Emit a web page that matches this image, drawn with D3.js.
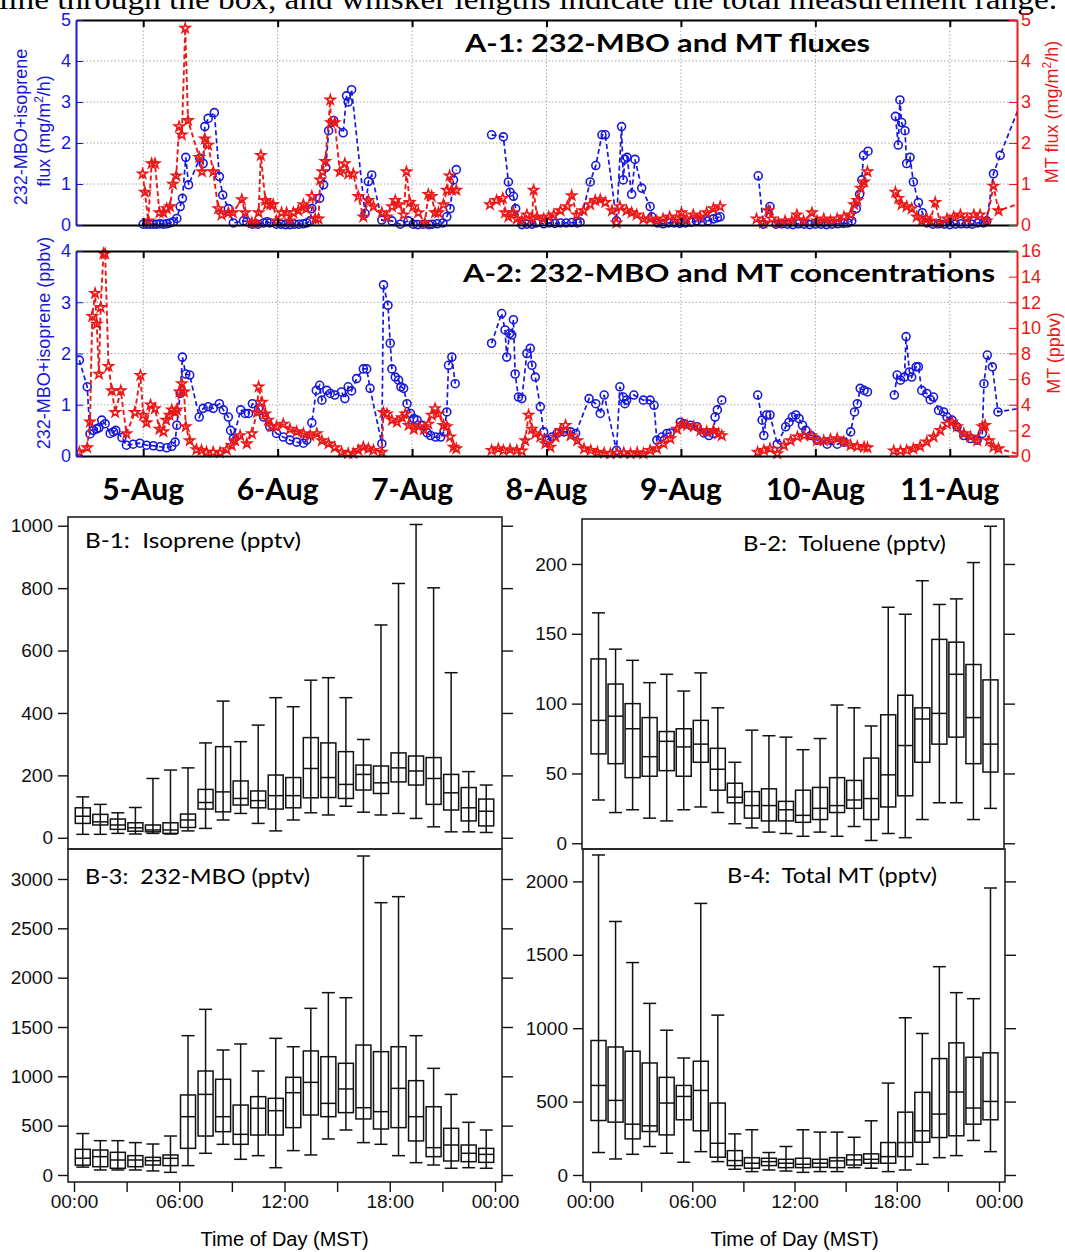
<!DOCTYPE html>
<html>
<head>
<meta charset="utf-8">
<script src="https://cdn.jsdelivr.net/npm/d3@7"></script>
<style>
  body { margin: 0; background: #fff; }
  svg { display: block; }
</style>
</head>
<body>
<script>
// ---- time series: [hours since 4-Aug 12:00, value], null = gap ----
const fluxBVOC = [[12,0.02],[12.6,0.02],[13.2,0.02],[13.8,0.02],[14.4,0.02],[15,0.03],[15.6,0.02],[16.2,0.03],[16.8,0.05],[17.4,0.08],[18,0.16],[18.6,0.45],[19,0.65],[19.6,1.65],[20.1,0.98],[22.1,1.63],[22.7,1.5],[23,2.4],[23.6,2.6],[24.7,2.74],[25.6,1.18],[26.2,0.73],[27.2,0.4],[28.1,0.05],[29.9,0.1],[30.5,0.08],[31.5,0.02],[32.5,0.02],[33.5,0.05],[34.1,0.08],[34.6,0.05],[35.8,0.02],[36.6,0.02],[37.4,0.01],[38.2,0.01],[39,0.02],[39.8,0.02],[40.6,0.03],[41.2,0.05],[41.8,0.1],[42.1,0.4],[43.5,0.65],[44.2,0.98],[44.6,1.4],[45.1,2.3],[46,2.55],[47.7,2.25],[48.3,3.15],[48.6,3.0],[49.2,3.3],[51.6,0.28],[52.2,1.06],[52.8,1.22],[54.6,0.12],[56.4,0.1],[57.9,0.02],[59.3,0.1],[60.2,0.02],[61,0.01],[62,0.02],[63,0.01],[63.6,0.02],[64.5,0.03],[65.5,0.05],[66.2,0.2],[66.8,0.4],[67.4,1.1],[67.9,1.35],[68.5,null],[74.2,2.2],[76.3,2.15],[77.2,1.05],[77.5,0.8],[78.1,0.7],[78.5,0.4],[79.6,0.01],[80.5,0.02],[81.4,0.02],[82.2,0.05],[83.5,0.03],[84.5,0.05],[85.5,0.04],[86.5,0.05],[87.5,0.05],[88.5,0.06],[89.5,0.05],[90,0.07],[91.8,1.05],[92.8,1.45],[93.9,2.2],[94.5,2.2],[96.5,0.1],[97.4,2.4],[97.7,1.1],[98,1.6],[98.4,1.65],[99.2,0.75],[99.8,1.6],[101,0.9],[102.5,0.45],[102.8,0.2],[103.8,0.05],[104.8,0.03],[105.8,0.05],[106.8,0.05],[107.8,0.04],[108.8,0.05],[109.8,0.07],[110.8,0.1],[111.8,0.08],[112.8,0.1],[113.8,0.15],[114.5,0.18],[115,0.2],[115.5,null],[121.8,1.2],[122.7,0.02],[123.9,0.45],[125,0.02],[126,0.03],[127,0.02],[128,0.01],[129,0.03],[130,0.02],[131,0.01],[132,0.02],[133,0.02],[134,0.01],[135,0.02],[136,0.03],[137,0.04],[137.8,0.05],[138.5,0.1],[139.3,0.4],[139.9,0.75],[140.3,1.1],[140.6,1.7],[141.4,1.8],[142,null],[146.3,2.65],[146.8,1.95],[147.1,3.05],[147.4,2.5],[148,2.3],[148.3,1.5],[148.9,1.65],[149.5,1.05],[150.4,0.55],[151.1,0.3],[151.9,0.05],[153,0.02],[154,0.03],[155,0.02],[156,0.01],[157,0.02],[158,0.03],[159,0.03],[160,0.02],[161,0.05],[162,0.05],[162.6,0.1],[163.8,1.25],[165,1.7],[169.5,3.27]]

const fluxMT = [[11.9,1.25],[12.3,0.8],[12.9,0.1],[13.5,1.5],[14.1,1.5],[14.9,0.3],[15.6,0.3],[16.2,0.4],[16.8,0.45],[17.3,1.0],[17.9,1.2],[18.4,2.4],[18.9,2.2],[19.5,4.8],[20,2.55],[22,1.65],[22.5,1.3],[23,2.1],[23.6,1.95],[24.5,1.3],[25.4,0.4],[26,0.25],[27.2,0.3],[28,0.3],[29.6,0.62],[30.2,0.3],[31.4,0.05],[32,0.05],[32.6,0.3],[33,1.7],[33.8,0.6],[34.1,0.5],[34.7,0.5],[35.2,0.5],[35.8,0.1],[36.7,0.3],[37.6,0.3],[38.2,0.1],[38.8,0.3],[39.7,0.35],[40.6,0.5],[41.1,0.4],[42.1,0.7],[42.7,0.15],[43.3,0.15],[43.6,1.1],[44,1.3],[44.5,1.55],[45.4,3.05],[45.5,2.5],[46.2,2.5],[47.1,1.3],[48,1.5],[48.6,1.25],[49.5,1.25],[50.4,0.7],[51.3,0.2],[52.2,0.6],[53.1,0.45],[54.6,0.3],[55.5,0.2],[56.4,0.45],[57,0.6],[57.6,0.5],[58.5,0.25],[59,1.3],[59.6,0.55],[60.2,0.45],[61.1,0.3],[62.3,0.05],[62.9,0.75],[63.5,0.7],[64.1,0.3],[64.7,0.3],[65.6,0.5],[66.2,0.85],[66.7,1.2],[67.1,0.85],[67.9,0.85],[68.5,null],[73.9,0.5],[75.1,0.6],[76.2,0.65],[76.6,0.3],[77.2,0.2],[78.1,0.3],[78.7,0.15],[79.6,0.1],[80.5,0.25],[81.4,0.15],[81.7,0.85],[82.3,0.2],[83.5,0.15],[84.4,0.2],[85.3,0.25],[86.5,0.35],[87.7,0.45],[88.5,0.72],[89.4,0.25],[90.6,0.35],[91.8,0.5],[92.7,0.6],[93.6,0.62],[94.5,0.55],[95.7,0.35],[96.5,0.05],[97.1,0.45],[98.3,0.35],[99.2,0.3],[100.1,0.25],[101.3,0.15],[102.5,0.15],[103.7,0.1],[104.8,0.15],[106,0.2],[107.2,0.15],[108.1,0.3],[109,0.15],[110.2,0.25],[111.4,0.2],[112.6,0.3],[113.8,0.4],[115,0.45],[115.5,null],[121.5,0.15],[122.7,0.05],[123.6,0.35],[124.2,0.15],[125.4,0.05],[126.6,0.1],[127.8,0.1],[128.7,0.25],[129.9,0.1],[131.4,0.3],[132.3,0.1],[133.5,0.15],[134.7,0.1],[135.9,0.15],[137.1,0.2],[138.3,0.25],[138.9,0.5],[139.5,0.6],[140.1,0.9],[140.7,1.05],[141.3,1.3],[142,null],[146.3,0.8],[146.8,0.65],[147.4,0.5],[148.3,0.45],[149.2,0.4],[150.1,0.2],[151,0.1],[151.9,0.15],[152.5,0.1],[153.4,0.55],[154.3,0.05],[155.5,0.15],[156.7,0.2],[157.9,0.25],[159.1,0.15],[160.3,0.25],[161.4,0.25],[162.6,0.1],[163.8,0.95],[164.7,0.35],[169.5,0.57]]

const concBVOC = [[0.6,1.87],[2,1.35],[2.5,0.43],[3.1,0.5],[3.7,0.53],[4.1,0.55],[4.6,0.7],[5.2,0.63],[6.1,0.44],[6.7,0.47],[7.1,0.5],[8.2,0.36],[9,0.21],[10.2,0.23],[11.4,0.25],[12.6,0.21],[13.8,0.2],[15,0.18],[16.2,0.16],[17.1,0.19],[17.7,0.27],[18,0.6],[18.6,1.22],[19,1.93],[19.6,1.6],[20.3,1.58],[22,0.76],[22.7,0.93],[23.6,0.96],[24.5,0.93],[25.6,1.02],[26.3,0.9],[27.2,0.76],[27.6,0.5],[28.1,0.34],[29.4,0.9],[30.2,0.83],[30.8,0.83],[31.5,1.02],[32.6,0.93],[33.5,0.76],[34.6,0.57],[35.8,0.44],[37,0.37],[38.2,0.31],[39.4,0.27],[40.6,0.25],[41.2,0.31],[42.1,0.65],[42.9,1.28],[43.5,1.38],[43.9,1.09],[44.8,1.28],[45.4,1.22],[46.2,1.19],[47.4,1.25],[48,1.12],[48.6,1.35],[49.2,1.27],[50.1,1.51],[51.3,1.7],[51.9,1.7],[52.5,1.32],[54.6,0.24],[54.9,3.34],[55.7,2.94],[56.1,2.2],[56.4,1.7],[57,1.54],[57.6,1.48],[58,1.35],[58.5,1.32],[59.1,1.02],[59.7,0.83],[60.3,0.73],[60.9,0.7],[61.8,0.6],[62.7,0.45],[63.3,0.4],[64.2,0.37],[65.1,0.37],[65.7,0.47],[66.2,0.86],[66.5,1.77],[67.1,1.93],[67.7,1.41],[68.5,null],[74.2,2.2],[76,2.78],[76.6,2.46],[76.9,1.93],[77.4,2.39],[77.8,2.36],[78.1,2.66],[78.4,1.6],[79,1.15],[79.6,1.12],[80.5,2.0],[81.1,2.1],[81.4,1.77],[82,1.54],[82.9,0.96],[83.5,0.47],[84.1,0.31],[85,0.37],[85.9,0.44],[87.1,0.47],[88.3,0.47],[89.2,0.44],[91.6,1.12],[92.8,1.02],[93.6,0.83],[94.3,1.19],[96.5,0.11],[97.1,1.35],[97.7,1.15],[98,1.02],[98.3,1.09],[99.6,1.19],[101.3,1.09],[102.5,1.09],[103.2,0.99],[103.7,0.31],[104.6,0.37],[105.5,0.44],[106.1,0.45],[107.9,0.66],[108.5,0.63],[109.7,0.6],[110.9,0.57],[112.1,0.45],[113,0.4],[113.8,0.44],[114.1,0.76],[114.5,0.9],[115.3,1.09],[115.8,null],[121.7,1.19],[122.5,0.7],[122.8,0.4],[123.3,0.8],[123.9,0.8],[125.2,0.23],[126.7,0.57],[127.3,0.66],[127.9,0.76],[128.5,0.8],[129.1,0.73],[129.7,0.6],[130.3,0.5],[131.2,0.4],[132.3,0.31],[134.1,0.23],[135.9,0.23],[137.1,0.27],[138.3,0.47],[139,0.86],[139.5,1.02],[140,1.32],[140.7,1.28],[141.3,1.25],[142,null],[146.1,1.19],[146.6,1.58],[147.2,1.48],[147.9,1.54],[148.2,2.33],[148.8,1.64],[149.2,1.54],[150,1.74],[150.4,1.74],[151,1.28],[151.9,1.22],[152.5,1.1],[153.1,1.15],[154,0.89],[154.9,0.86],[155.5,0.76],[156.4,0.7],[157.3,0.57],[158.5,0.4],[159.7,0.34],[160.9,0.31],[161.8,0.44],[162.1,1.41],[162.7,1.97],[163.6,1.74],[164.6,0.86],[169.5,0.95]]

const concMT = [[0.6,0.3],[2,0.65],[2.5,2.66],[2.9,10.9],[3.4,12.7],[3.7,10.3],[4.1,6.4],[4.4,11.6],[4.9,15.8],[5.2,15.8],[5.8,7.0],[6.4,5.1],[7,3.4],[8,5.1],[9,1.74],[10.5,3.4],[11.5,6.3],[12,3.2],[12.6,2.6],[13.3,4.0],[14.1,3.7],[14.9,2.1],[15.6,1.9],[16.1,2.8],[16.7,3.2],[17.1,3.6],[17.7,3.4],[18,3.6],[18.5,5.0],[18.9,5.65],[19.3,5.0],[19.6,2.3],[20.3,1.2],[21.5,0.5],[22.4,0.45],[23.3,0.3],[24.5,0.3],[25.7,0.26],[26.9,0.5],[27.8,0.83],[28.4,1.2],[29.3,1.6],[30.5,0.96],[31.4,1.74],[32.3,3.4],[32.6,5.4],[33.2,4.2],[33.8,3.3],[34.3,2.8],[34.9,2.3],[35.8,2.3],[37,2.5],[38.2,2.1],[39.4,1.9],[40.6,1.75],[41.8,1.6],[43,1.75],[43.9,1.2],[45.1,0.96],[46.2,0.65],[47.4,0.3],[48.6,0.2],[49.5,0.2],[50.4,0.45],[51.3,0.7],[52.2,0.57],[53.1,0.45],[54.6,0.3],[54.9,3.4],[55.5,3.3],[56.4,2.8],[57.3,2.65],[58.2,3.0],[58.8,3.3],[59.4,2.4],[60.3,2.1],[61.2,2.3],[62.1,2.05],[62.9,2.5],[63.5,3.2],[64.1,3.7],[64.7,3.3],[65.6,2.4],[66.2,2.3],[66.8,1.5],[67.4,0.7],[67.9,0.57],[68.5,null],[74.2,0.45],[75.4,0.57],[76.3,0.45],[77.5,0.5],[78.7,0.45],[79.6,0.4],[80.2,1.2],[80.8,3.2],[81.4,2.1],[82,1.75],[82.9,1.5],[83.8,0.96],[84.7,0.7],[85.6,1.5],[86.5,2.0],[87.4,2.4],[88.3,1.6],[89.5,1.2],[90.7,0.57],[91.9,0.45],[93.1,0.3],[94.3,0.23],[95.4,0.18],[96.6,0.23],[97.8,0.26],[99,0.18],[100.2,0.26],[101.3,0.18],[102.5,0.45],[103.7,0.57],[104.9,0.96],[106.1,1.35],[107.3,2.1],[108.2,2.5],[109.1,2.4],[110.3,2.3],[111.5,2.0],[112.6,1.9],[113.8,2.0],[114.7,1.75],[115.3,1.6],[115.8,null],[121.7,0.3],[122.8,0.45],[123.9,0.57],[125.2,0.18],[126.4,0.83],[127.6,1.2],[128.8,1.5],[130,1.6],[131.2,1.6],[132.3,1.2],[133.5,1.2],[134.7,1.3],[135.9,1.35],[137.1,1.1],[138.3,0.83],[139.5,0.75],[140.7,0.7],[141.3,0.65],[142,null],[146,0.4],[147.2,0.4],[148.3,0.45],[149.5,0.57],[150.7,0.75],[151.9,1.1],[153.1,1.5],[154.3,2.0],[155.5,2.5],[156.4,2.65],[157.3,2.3],[158.5,1.75],[159.7,1.5],[160.9,1.2],[161.8,2.3],[162.3,2.4],[163,1.2],[163.8,0.7],[164.7,0.57],[169.5,0]]

const dayLabels = ["5-Aug", "6-Aug", "7-Aug", "8-Aug", "9-Aug", "10-Aug", "11-Aug"]

// ---- hourly box stats: [min, q1, median, q3, max] for hours 0..23 ----
const isoprene = [[11,46,69,96,131],[11,41,51,75,107],[14,27,41,60,80],[12,21,32,48,97],[14,19,25,41,190],[12,14,25,48,217],[22,33,57,76,224],[30,92,113,155,304],[57,83,147,292,438],[78,105,126,182,308],[46,96,119,150,361],[22,92,135,201,449],[57,96,135,193,420],[80,128,222,321,505],[73,129,193,304,513],[101,126,171,276,449],[82,153,203,233,315],[73,142,176,230,682],[78,179,224,272,815],[62,169,214,262,1004],[35,107,190,257,801],[19,89,144,203,529],[19,54,96,161,212],[17,38,85,124,169]]
const toluene = [[31,64,88,132,165],[22,57,91,114,139],[24,47,82,100,131],[18,48,62,90,115],[16,52,73,80,121],[24,48,69,82,109],[26,58,71,88,122],[22,38,53,68,97],[14,29,33,43,58],[11,18,27,37,81],[8,16,27,39,77],[7,16,24,30,76],[5,15,20,38,67],[8,17,25,40,75],[5,22,27,47,99],[12,25,31,45,97],[2,17,32,61,84],[7,26,49,92,169],[4,34,70,106,164],[17,58,89,97,188],[29,71,93,146,171],[29,76,121,144,175],[17,57,90,128,201],[25,51,71,117,227]]
const mbo = [[80,100,170,260,420],[51,84,186,253,348],[51,68,152,230,348],[51,84,152,196,328],[41,101,145,179,314],[27,95,169,203,395],[95,270,591,811,1412],[220,395,817,1054,1679],[311,439,591,970,1267],[159,311,412,709,1328],[196,405,676,794,1054],[74,405,652,777,1385],[247,480,834,990,1300],[203,608,939,1257,1689],[365,591,726,1199,1848],[456,632,872,1132,1797],[328,568,682,1317,3233],[311,466,642,1250,2760],[196,480,878,1300,2821],[125,345,591,956,1412],[101,186,277,692,1081],[68,142,304,473,817],[74,135,220,304,534],[68,128,209,270,456]]
const totalMT = [[153,371,610,916,2180],[109,360,508,872,1727],[141,246,346,843,1447],[194,296,335,763,1169],[148,273,490,665,986],[87,376,535,610,797],[159,301,576,775,1850],[91,121,216,490,1089],[39,64,98,166,280],[23,46,80,118,308],[34,64,91,114,153],[27,50,80,107,194],[18,50,73,114,308],[23,52,80,107,292],[23,50,96,118,292],[50,68,103,137,257],[46,80,107,144,369],[23,80,125,221,626],[34,125,221,428,1071],[73,223,301,563,964],[118,255,415,793,1419],[132,267,565,900,1242],[235,346,456,802,1201],[159,376,501,832,1955]]

const hourTicks = [0, 3, 6, 9, 12, 15, 18, 21, 24]
const hourLabels = ["00:00", "06:00", "12:00", "18:00", "00:00"]

// ---- setup ----
const W = 1065, H = 1252
const BLUE = "#1818dc", RED = "#ec1818"
const SANS = "'Liberation Sans', Arial, sans-serif"
const CAL = "Lato, 'Open Sans', sans-serif"

const svg = d3.select("body").append("svg")
  .attr("width", W).attr("height", H)
  .style("font-family", SANS)

// caption fragment cut off at the top
svg.append("text")
  .attr("x", -1).attr("y", 9)
  .attr("font-family", "'Liberation Serif', 'Times New Roman', serif")
  .attr("font-size", 30)
  .attr("textLength", 1058).attr("lengthAdjust", "spacingAndGlyphs")
  .text("line through the box, and whisker lengths indicate the total measurement range.")

const t0 = new Date(2012, 7, 4, 12)
const toDate = h => new Date(t0.getTime() + h * 36e5)
const x = d3.scaleTime().domain([t0, toDate(168)]).range([76, 1017])
const days = d3.timeDay.range(toDate(0.1), toDate(168))

svg.append("clipPath").attr("id", "clipA")
  .append("rect").attr("x", 76).attr("y", 0).attr("width", 941).attr("height", 480)

function drawSeries(g, data, y, color, type, size, lw) {
  const line = d3.line()
    .defined(d => d[1] != null)
    .x(d => x(toDate(d[0])))
    .y(d => y(d[1]))
  g.append("path")
    .attr("d", line(data))
    .attr("fill", "none")
    .attr("stroke", color)
    .attr("stroke-width", lw)
    .attr("stroke-dasharray", "5,3")
  g.append("g").selectAll("path")
    .data(data.filter(d => d[1] != null))
    .join("path")
    .attr("transform", d => `translate(${x(toDate(d[0]))},${y(d[1])})`)
    .attr("d", d3.symbol().type(type).size(size))
    .attr("fill", "none")
    .attr("stroke", color)
    .attr("stroke-width", 1.6)
}

function timePanel(o) {
  const yL = d3.scaleLinear().domain([0, o.leftMax]).range([o.bottom, o.top])
  const yR = d3.scaleLinear().domain([0, o.rightMax]).range([o.bottom, o.top])
  const g = svg.append("g")

  // dotted grid
  const grid = g.append("g").attr("stroke", "#a8a8a8").attr("stroke-dasharray", "1.5,2")
  grid.selectAll(".v").data(days).join("line")
    .attr("x1", d => x(d)).attr("x2", d => x(d))
    .attr("y1", o.top).attr("y2", o.bottom)
  grid.selectAll(".h").data(d3.range(1, o.leftMax)).join("line")
    .attr("x1", 76).attr("x2", 1017)
    .attr("y1", d => yL(d)).attr("y2", d => yL(d))

  // series
  const plot = g.append("g").attr("clip-path", "url(#clipA)")
  drawSeries(plot, o.left, yL, BLUE, d3.symbolCircle, 50, 1.7)
  drawSeries(plot, o.right, yR, RED, d3.symbolStar, 28, 1.9)

  // frame top/bottom with day ticks
  g.append("g").call(d3.axisBottom(x).tickValues(days).tickSizeInner(-7).tickSizeOuter(0).tickFormat(""))
    .attr("transform", `translate(0,${o.bottom})`)
    .call(a => a.selectAll("line").attr("stroke-width", 2))
    .call(a => a.select(".domain").attr("stroke-width", 2))
  g.append("g").call(d3.axisTop(x).tickValues(days).tickSizeInner(-7).tickSizeOuter(0).tickFormat(""))
    .attr("transform", `translate(0,${o.top})`)
    .call(a => a.selectAll("line").attr("stroke-width", 2))
    .call(a => a.select(".domain").attr("stroke-width", 2))

  g.append("g")
    .attr("transform", "translate(76,0)")
    .call(d3.axisLeft(yL).ticks(o.leftMax).tickSizeInner(-7).tickSizeOuter(0).tickPadding(5))
    .attr("color", BLUE).attr("font-size", 18).attr("font-family", SANS)
    .call(a => a.select(".domain").attr("stroke-width", 2))
  g.append("g")
    .attr("transform", "translate(1017,0)")
    .call(d3.axisRight(yR).ticks(o.rightTicks).tickSizeInner(-8).tickSizeOuter(0).tickPadding(4))
    .attr("color", RED).attr("font-size", 18).attr("font-family", SANS)
    .call(a => a.select(".domain").attr("stroke-width", 2))

  g.append("text")
    .attr("x", o.titleX).attr("y", o.titleY)
    .attr("font-family", CAL).attr("font-weight", "bold").attr("font-size", 24)
    .attr("textLength", o.titleW).attr("lengthAdjust", "spacingAndGlyphs")
    .text(o.title)
  return g
}

function supLabel(g, parts, fill) {
  const t = g.append("text").attr("fill", fill).attr("text-anchor", "middle").attr("font-size", 18)
  t.append("tspan").text(parts[0])
  if (parts.length > 1) {
    t.append("tspan").attr("font-size", 12).attr("dy", -7).text("2")
    t.append("tspan").attr("dy", 7).text(parts[1])
  }
  return t
}

// A-1
timePanel({
  top: 20, bottom: 225, leftMax: 5, rightMax: 5, rightTicks: 5,
  left: fluxBVOC, right: fluxMT,
  title: "A-1: 232-MBO and MT fluxes", titleX: 465, titleY: 52, titleW: 405
})
// A-2
timePanel({
  top: 251, bottom: 456, leftMax: 4, rightMax: 16, rightTicks: 8,
  left: concBVOC, right: concMT,
  title: "A-2: 232-MBO and MT concentrations", titleX: 463, titleY: 282, titleW: 532
})

// axis titles of the time panels
const lab1 = svg.append("g").attr("transform", "translate(27,127) rotate(-90)")
supLabel(lab1, ["232-MBO+isoprene"], BLUE)
const lab2 = svg.append("g").attr("transform", "translate(50,131) rotate(-90)")
supLabel(lab2, ["flux (mg/m", "/h)"], BLUE)
const lab3 = svg.append("g").attr("transform", "translate(1058,112) rotate(-90)")
supLabel(lab3, ["MT flux (mg/m", "/h)"], RED)
const lab4 = svg.append("g").attr("transform", "translate(50,343) rotate(-90)")
supLabel(lab4, ["232-MBO+isoprene (ppbv)"], BLUE)
const lab5 = svg.append("g").attr("transform", "translate(1060,353) rotate(-90)")
supLabel(lab5, ["MT (ppbv)"], RED)

// day labels
svg.append("g").selectAll("text").data(days).join("text")
  .attr("x", d => x(d)).attr("y", 500)
  .attr("text-anchor", "middle")
  .attr("font-family", CAL).attr("font-weight", "bold").attr("font-size", 30)
  .text((d, i) => dayLabels[i])

// ---- box panels ----
function boxPanel(o) {
  const [fx0, fy0, fx1, fy1] = o.frame
  const xs = d3.scaleLinear().domain([0, 24]).range(o.xr)
  const ys = d3.scaleLinear().domain(o.yDomain).range([fy1, fy0])
  const g = svg.append("g")

  g.append("rect")
    .attr("x", fx0).attr("y", fy0).attr("width", fx1 - fx0).attr("height", fy1 - fy0)
    .attr("fill", "none").attr("stroke", "#222").attr("stroke-width", 1.6)

  g.append("g").attr("transform", `translate(${fx0},0)`)
    .call(d3.axisLeft(ys).tickValues(o.ticks).tickSizeInner(10).tickSizeOuter(0).tickPadding(5).tickFormat(d3.format("d")))
    .attr("font-size", 19).attr("font-family", SANS).attr("color", "#111")
    .call(a => a.select(".domain").remove())
    .call(a => a.selectAll("line").attr("stroke-width", 1.4))
  g.append("g").attr("transform", `translate(${fx1},0)`)
    .call(d3.axisRight(ys).tickValues(o.ticks).tickSizeInner(11).tickSizeOuter(0).tickFormat(""))
    .attr("color", "#111")
    .call(a => a.select(".domain").remove())
    .call(a => a.selectAll("line").attr("stroke-width", 1.4))

  if (o.showX) {
    g.append("g").attr("transform", `translate(0,${fy1})`)
      .call(d3.axisBottom(xs).tickValues(hourTicks).tickSizeInner(10).tickSizeOuter(0).tickPadding(3)
        .tickFormat(h => h % 6 === 0 ? hourLabels[h / 6] : ""))
      .attr("font-size", 19).attr("font-family", SANS).attr("color", "#111")
      .call(a => a.select(".domain").remove())
      .call(a => a.selectAll("line").attr("stroke-width", 1.4))
    g.append("text")
      .attr("x", (o.xr[0] + o.xr[1]) / 2).attr("y", 1246)
      .attr("text-anchor", "middle").attr("font-size", 20)
      .text("Time of Day (MST)")
  }

  const bw = 15, cw = 13
  const box = g.append("g").attr("fill", "none").attr("stroke", "#111").attr("stroke-width", 1.5)
  const b = box.selectAll("g").data(o.data).join("g")
    .attr("transform", (d, i) => `translate(${xs(i + 0.5)},0)`)
  b.append("line").attr("y1", d => ys(d[0])).attr("y2", d => ys(d[4]))
  b.append("line").attr("x1", -cw / 2).attr("x2", cw / 2).attr("y1", d => ys(d[0])).attr("y2", d => ys(d[0]))
  b.append("line").attr("x1", -cw / 2).attr("x2", cw / 2).attr("y1", d => ys(d[4])).attr("y2", d => ys(d[4]))
  b.append("rect").attr("x", -bw / 2).attr("width", bw)
    .attr("y", d => ys(d[3])).attr("height", d => ys(d[1]) - ys(d[3]))
  b.append("line").attr("x1", -bw / 2).attr("x2", bw / 2).attr("y1", d => ys(d[2])).attr("y2", d => ys(d[2]))

  g.append("text")
    .attr("x", o.titleX).attr("y", o.titleY)
    .attr("font-family", CAL).attr("font-size", 21)
    .attr("textLength", o.titleW).attr("lengthAdjust", "spacingAndGlyphs")
    .style("white-space", "pre")
    .text(o.title)
}

boxPanel({ frame: [68, 517, 502, 849], xr: [74, 495], yDomain: [-36, 1028],
  ticks: [0, 200, 400, 600, 800, 1000], data: isoprene,
  title: "B-1:  Isoprene (pptv)", titleX: 85, titleY: 548, titleW: 216 })
boxPanel({ frame: [582, 519, 1004, 849], xr: [590, 999], yDomain: [-4.1, 232.2],
  ticks: [0, 50, 100, 150, 200], data: toluene,
  title: "B-2:  Toluene (pptv)", titleX: 743, titleY: 551, titleW: 203 })
boxPanel({ frame: [68, 849, 502, 1182], xr: [74, 495], yDomain: [-71, 3304],
  ticks: [0, 500, 1000, 1500, 2000, 2500, 3000], data: mbo, showX: true,
  title: "B-3:  232-MBO (pptv)", titleX: 85, titleY: 884, titleW: 225 })
boxPanel({ frame: [583, 849, 1005, 1182], xr: [590, 999], yDomain: [-47.8, 2220.7],
  ticks: [0, 500, 1000, 1500, 2000], data: totalMT, showX: true,
  title: "B-4:  Total MT (pptv)", titleX: 727, titleY: 883, titleW: 210 })
</script>
</body>
</html>
